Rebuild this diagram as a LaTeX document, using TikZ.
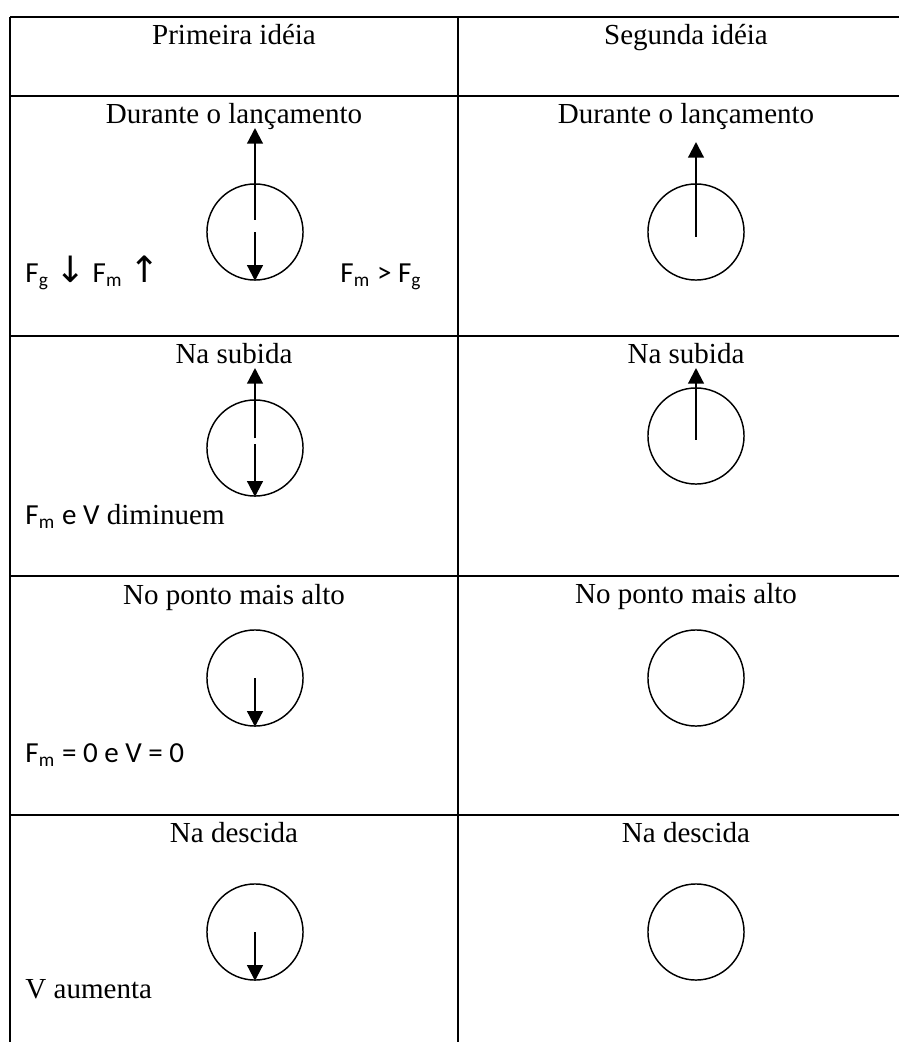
\documentclass[tikz,border=0pt]{standalone}
\usepackage{fontspec}
\setmainfont{Liberation Serif}
\newfontfamily\calibri{Carlito}
\newfontfamily\symb{DejaVu Sans}
\usetikzlibrary{arrows.meta}

\begin{document}
\begin{tikzpicture}[x=0.4132pt, y=-0.4132pt, font=\fontsize{12}{14}\selectfont]
\tikzstyle{rule}=[line width=1pt]
\tikzstyle{ball}=[draw, circle, line width=0.6pt, minimum size=39.7pt, inner sep=0pt]
\tikzstyle{head}=[anchor=base, inner sep=0pt]
\tikzstyle{note}=[anchor=base west, inner sep=0pt]
\tikzstyle{vec}=[line width=0.9pt, -{Triangle[length=6.5pt,width=6.5pt]}]
\newcommand{\sarrow}[1]{{\fontsize{15}{15}\symb #1}}
\useasboundingbox (0,0) rectangle (899,1042);

% table rules
\foreach \y in {17,96,336,576,815}
  \draw[rule] (10,\y) -- (899,\y);
\draw[rule] (10,17) -- (10,1042);
\draw[rule] (458,17) -- (458,1042);

% headings
\node[head] (h1) at (234,44) {Primeira idéia};
\node[head] (h2) at (686,44) {Segunda idéia};
\node[head] (r1a) at (234,123) {Durante o lançamento};
\node[head] (r1b) at (686,123) {Durante o lançamento};
\node[head] (r2a) at (234,363) {Na subida};
\node[head] (r2b) at (686,363) {Na subida};
\node[head] (r3a) at (234,604) {No ponto mais alto};
\node[head] (r3b) at (686,603) {No ponto mais alto};
\node[head] (r4a) at (234,842) {Na descida};
\node[head] (r4b) at (686,842) {Na descida};

% balls
\node[ball] (b1) at (255,232) {};
\node[ball] (b2) at (696,232) {};
\node[ball] (b3) at (255,448) {};
\node[ball] (b4) at (696,436) {};
\node[ball] (b5) at (255,678) {};
\node[ball] (b6) at (696,678) {};
\node[ball] (b7) at (255,932) {};
\node[ball] (b8) at (696,932) {};

% forces
\coordinate (t1) at (255,128);
\coordinate (t2) at (696,142);
\coordinate (t3) at (255,368);
\coordinate (t4) at (696,368);
\draw[vec] ([yshift=5pt]b1.center) -- (t1);
\draw[vec] (b1.center) -- (b1.south);
\draw[vec] ([yshift=-2pt]b2.center) -- (t2);
\draw[vec] ([yshift=4pt]b3.center) -- (t3);
\draw[vec] ([yshift=1.6pt]b3.center) -- (b3.south);
\draw[vec] ([yshift=-1.6pt]b4.center) -- (t4);
\draw[vec] (b5.center) -- (b5.south);
\draw[vec] (b7.center) -- (b7.south);

% notes
\node[note] (n1) at (25,282) {\calibri F\textsubscript{g} \sarrow{↓} F\textsubscript{m} \sarrow{↑}};
\node[note] (n2) at (340,282) {\calibri F\textsubscript{m} > F\textsubscript{g}};
\node[note] (n3) at (25,524) {{\calibri F\textsubscript{m} e V} diminuem};
\node[note] (n4) at (25,762) {\calibri F\textsubscript{m} = 0 e V = 0};
\node[note] (n5) at (25,998) {V aumenta};
\end{tikzpicture}
\end{document}
